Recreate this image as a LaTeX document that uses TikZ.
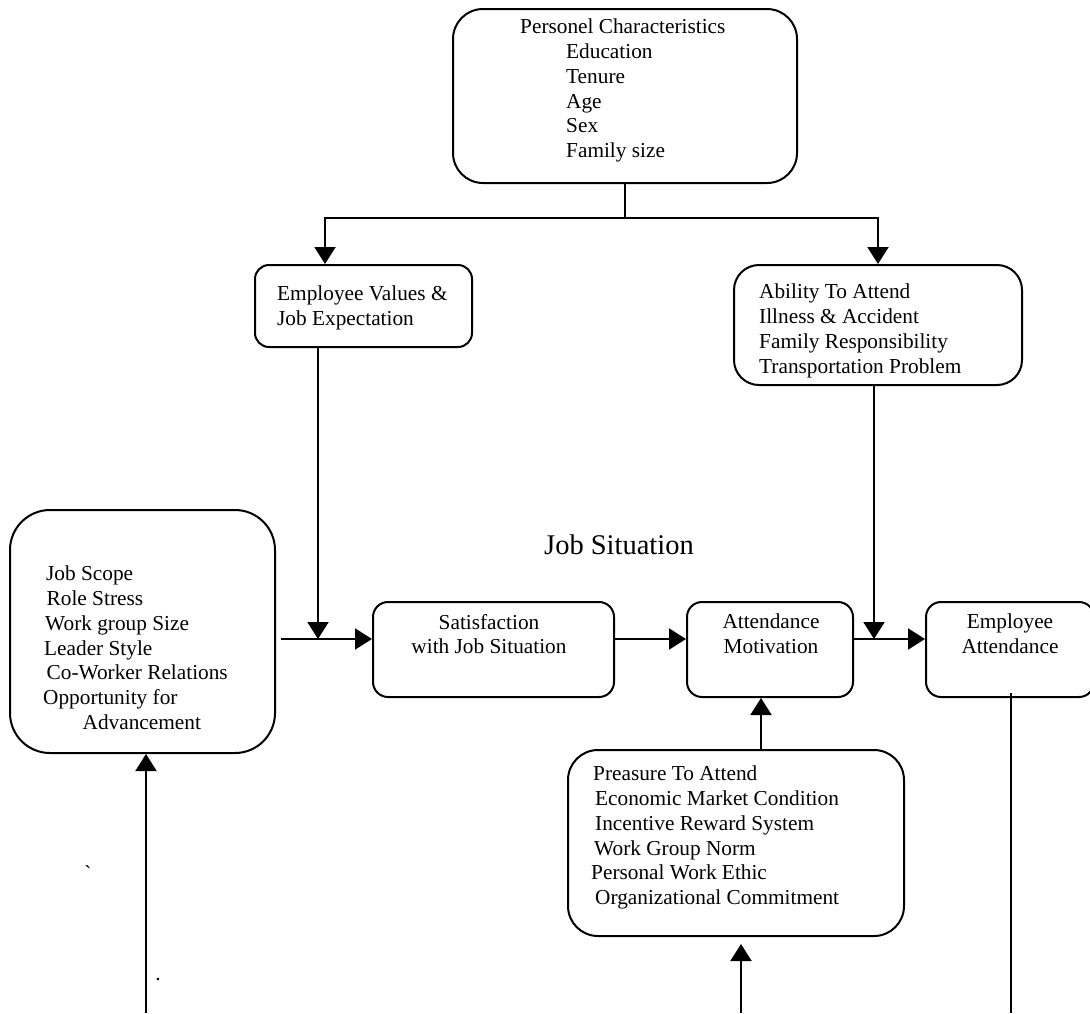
\documentclass[tikz,border=0pt]{standalone}
\usepackage{fontspec}
\setmainfont{Liberation Serif}
\newfontfamily\plainserif{Liberation Serif}[Ligatures=TeXOff]
\usetikzlibrary{arrows.meta}
\begin{document}
\begin{tikzpicture}[x=1pt,y=-1pt]
  \tikzset{
    box/.style={draw=black, line width=2pt, rounded corners=#1},
    txt/.style={inner sep=0pt, align=left, anchor=north west,
      font=\fontsize{21.3}{24.7}\selectfont},
    ctxt/.style={txt, align=center, anchor=north},
    arr/.style={line width=2pt, -{Triangle[length=17pt,width=21pt]}},
    conn/.style={line width=2pt}
  }
  \useasboundingbox (0,0) rectangle (1090,1013);

  \node[box=30pt, minimum width=344pt, minimum height=174pt] (pc) at (625,96) {};
  \node[box=14pt, minimum width=217pt, minimum height=82pt] (ev) at (363.5,306) {};
  \node[box=25pt, minimum width=288pt, minimum height=120pt] (ab) at (878,325) {};
  \node[box=40pt, minimum width=265pt, minimum height=243pt] (js) at (142.5,631.5) {};
  \node[box=15pt, minimum width=241pt, minimum height=95pt] (sat) at (493.5,649.5) {};
  \node[box=15pt, minimum width=166pt, minimum height=95pt] (am) at (770,649.5) {};
  \node[box=15pt, minimum width=168pt, minimum height=95pt] (ea) at (1010,649.5) {};
  \node[box=30pt, minimum width=336pt, minimum height=186pt] (pr) at (736,843) {};

  \node[txt] (pcT) at (520,19) {Personel Characteristics\\
    \hspace*{46pt}Education\\ \hspace*{46pt}Tenure\\ \hspace*{46pt}Age\\
    \hspace*{46pt}Sex\\ \hspace*{46pt}Family size};
  \node[txt] (evT) at (277,286) {Employee Values \&\\Job Expectation};
  \node[txt] (abT) at (759,284) {Ability To Attend\\Illness \& Accident\\
    Family Responsibility\\Transportation Problem};
  \node[txt] (jsT) at (43,566) {\hspace*{3pt}Job Scope\\ \hspace*{3.5pt}Role Stress\\
    \hspace*{2pt}Work group Size\\ \hspace*{1pt}Leader Style\\
    \hspace*{3.5pt}Co-Worker Relations\\Opportunity for\\ \hspace*{39.5pt}Advancement};
  \node[ctxt] (satT) at (489,614) {Satisfaction\\with Job Situation};
  \node[ctxt] (amT) at (771,614) {Attendance\\Motivation};
  \node[ctxt] (eaT) at (1010,614) {Employee\\Attendance};
  \node[txt] (prT) at (591,766) {\hspace*{2pt}Preasure To Attend\\
    \hspace*{4pt}Economic Market Condition\\ \hspace*{4pt}Incentive Reward System\\
    \hspace*{3pt}Work Group Norm\\Personal Work Ethic\\
    \hspace*{4pt}Organizational Commitment};
  \node[font=\fontsize{28.5}{30}\selectfont] (jsit) at (619,545) {Job Situation};
  \node[txt, anchor=base, font=\plainserif\fontsize{21.3}{24.7}\selectfont] (tick) at (88,880) {`};
  \node[txt, anchor=base] (dot) at (158,980) {.};

  \coordinate (top) at (625,218);
  \coordinate (m1) at (318,639);
  \coordinate (m2) at (874,639);
  \coordinate (b1) at (146,1013);
  \coordinate (b2) at (741,1013);
  \coordinate (b3) at (1011,1013);

  \draw[conn] (pc.south) -- (top);
  \draw[arr] (top) -| ([xshift=71pt]ev.north west);
  \draw[arr] (top) -| (ab.north);
  \draw[arr] (ev.south -| m1) -- (m1);
  \draw[arr] (ab.south -| m2) -- (m2);
  \draw[arr, shorten <=5pt] (js.east |- m1) -- (sat.west |- m1);
  \draw[arr] (sat.east |- m1) -- (am.west |- m1);
  \draw[arr] (am.east |- m2) -- (ea.west |- m2);
  \draw[arr] ([xshift=25pt]pr.north) -- ([xshift=25pt]pr.north |- am.south);
  \draw[arr] (b1) -- (b1 |- js.south);
  \draw[arr, shorten >=7pt] (b2) -- (b2 |- pr.south);
  \draw[conn, shorten <=-5pt] (ea.south -| b3) -- (b3);
\end{tikzpicture}
\end{document}
